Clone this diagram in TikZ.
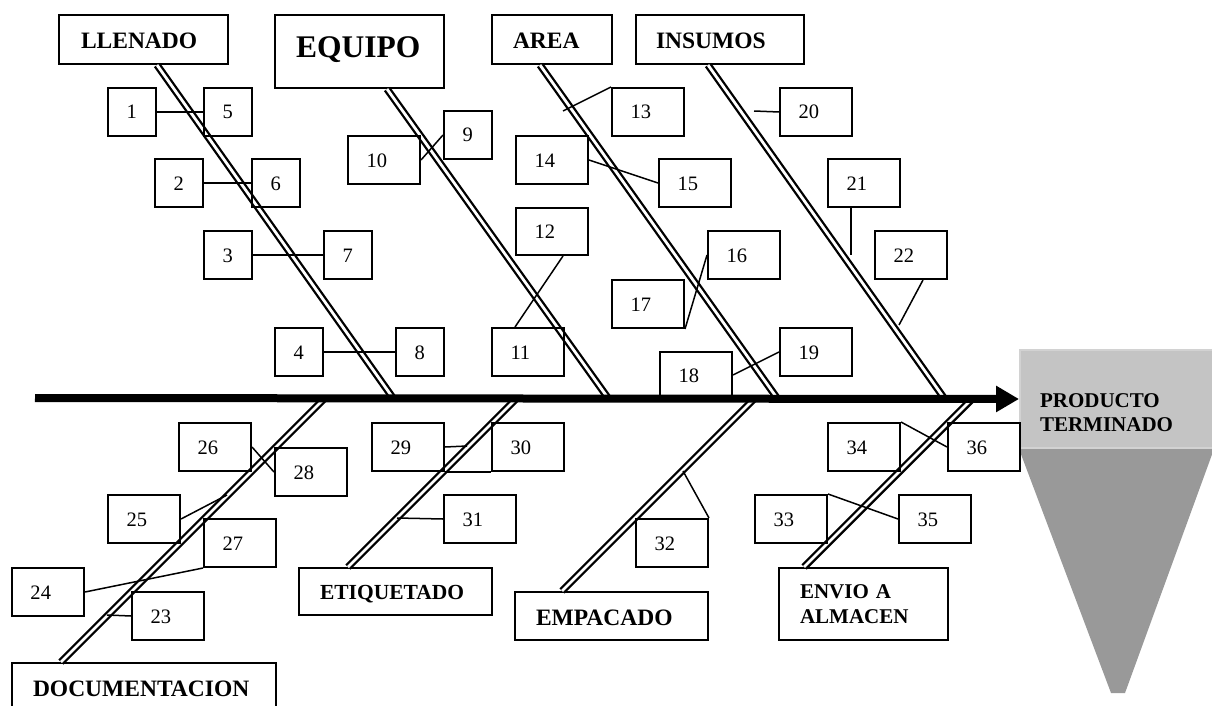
\documentclass[tikz,border=0pt]{standalone}
\usepackage{fontspec}
\setmainfont{Liberation Serif}
\usetikzlibrary{arrows.meta,calc}

\definecolor{prodfill}{RGB}{196,196,196}
\definecolor{prodedge}{RGB}{210,210,210}
\definecolor{funnel}{RGB}{153,153,153}

\newcommand\numfont{\fontsize{20.5}{24}\selectfont}
\newcommand\catfont{\fontsize{23.5}{28}\selectfont\bfseries}

\begin{document}
\begin{tikzpicture}[x=1pt,y=-1pt,
  box/.style={draw, line width=2pt, anchor=north west, inner ysep=0pt, align=left},
  nb/.style={box, minimum width=48pt, minimum height=48pt, inner xsep=18.5pt,
    text width=11pt, text height=14pt, text depth=0pt, font=\numfont},
  nw/.style={nb, minimum width=72pt, text width=35pt},
  cat/.style={box, font=\catfont, inner xsep=21pt, text depth=0pt},
  bone/.style={double, line width=2.3pt, double distance=2.8pt},
  cn/.style={line width=1.5pt},
  axisline/.style={line width=8pt, -{Triangle[length=23pt,width=25pt]}}
]
\useasboundingbox (0,0) rectangle (1212,706);
\clip (0,0) rectangle (1212,706);

% category boxes
\node[cat, minimum width=169pt, minimum height=49pt, inner xsep=22pt, text width=125pt, text height=19pt] (lle) at (58,14) {LLENADO};
\node[cat, font=\fontsize{31.5}{36}\selectfont\bfseries, minimum width=169pt, minimum height=73pt, inner xsep=21pt, text width=127pt, text height=13pt] (equ) at (274,14) {EQUIPO};
\node[cat, minimum width=120pt, minimum height=49pt, text width=78pt, text height=19pt] (are) at (491,14) {AREA};
\node[cat, minimum width=168pt, minimum height=49pt, inner xsep=20pt, text width=128pt, text height=19pt] (ins) at (635,14) {INSUMOS};
\node[cat, minimum width=264pt, minimum height=49pt, text width=222pt, text height=17pt] (doc) at (11,662) {DOCUMENTACION};
\node[cat, font=\fontsize{21.5}{26}\selectfont\bfseries, minimum width=193pt, minimum height=47pt, text width=151pt, text height=15pt] (eti) at (298,567) {ETIQUETADO};
\node[cat, minimum width=193pt, minimum height=48pt, text width=151pt, text height=18pt] (emp) at (514,591) {EMPACADO};
\node[cat, font=\fontsize{21}{25}\selectfont\bfseries, minimum width=169pt, minimum height=72pt, text width=127pt, text height=13pt, text depth=25pt] (env) at (778,567) {ENVIO A\\ALMACEN};

% finished product block
\node[cat, font=\fontsize{21}{24}\selectfont\bfseries, fill=prodfill, draw=prodedge, line width=2pt, minimum width=193pt, minimum height=98pt, inner xsep=20pt, text width=153pt, text height=20pt, text depth=4pt] (prod) at (1019,349) {PRODUCTO\\TERMINADO};
\fill[funnel] (prod.south west) -- (prod.south east) -- ++(-89,244) -- ++(-14,0) -- cycle;

% points where the bones meet the axis
\coordinate (a1) at (393,398);
\coordinate (a2) at (608,398);
\coordinate (a3) at (777,398);
\coordinate (a4) at (944,398);
\coordinate (b1) at (325,398);
\coordinate (b2) at (517,398);
\coordinate (b3) at (755,398);
\coordinate (b4) at (973,398);
\coordinate (tail) at (35,398);

% bones
\draw[bone] ($(lle.south west)+(99,0)$) -- (a1);
\draw[bone] ($(equ.south west)+(113,0)$) -- (a2);
\draw[bone] ($(are.south west)+(49,0)$) -- (a3);
\draw[bone] ($(ins.south west)+(73,0)$) -- (a4);
\draw[bone] ($(doc.north west)+(50,0)$) -- (b1);
\draw[bone] ($(eti.north west)+(50,0)$) -- (b2);
\draw[bone] ($(emp.north west)+(48,0)$) -- (b3);
\draw[bone] ($(env.north west)+(26,0)$) -- (b4);

% cause boxes
\node[nb] (n1) at (107,87) {1};
\node[nb] (n5) at (203,87) {5};
\node[nb] (n2) at (154,158) {2};
\node[nb] (n6) at (251,158) {6};
\node[nb] (n3) at (203,230) {3};
\node[nb] (n7) at (323,230) {7};
\node[nb] (n4) at (274,327) {4};
\node[nb] (n8) at (395,327) {8};
\node[nw] (n10) at (347,135) {10};
\node[nb] (n9) at (443,110) {9};
\node[nw, minimum height=47pt] (n12) at (515,207) {12};
\node[nw] (n11) at (491,327) {11};
\node[nw] (n13) at (611,87) {13};
\node[nw] (n14) at (515,135) {14};
\node[nw] (n15) at (658,158) {15};
\node[nw] (n16) at (707,230) {16};
\node[nw] (n17) at (611,279) {17};
\node[nw, minimum height=46pt] (n18) at (659,351) {18};
\node[nw] (n19) at (779,327) {19};
\node[nw] (n20) at (779,87) {20};
\node[nw] (n21) at (827,158) {21};
\node[nw] (n22) at (874,230) {22};
\node[nw] (n26) at (178,422) {26};
\node[nw] (n28) at (274,447) {28};
\node[nw] (n25) at (107,494) {25};
\node[nw] (n27) at (203,518) {27};
\node[nw] (n24) at (11,567) {24};
\node[nw] (n23) at (131,591) {23};
\node[nw] (n29) at (371,422) {29};
\node[nw] (n30) at (491,422) {30};
\node[nw] (n31) at (443,494) {31};
\node[nw] (n32) at (635,518) {32};
\node[nw] (n34) at (827,422) {34};
\node[nw] (n36) at (947,422) {36};
\node[nw] (n33) at (754,494) {33};
\node[nw] (n35) at (898,494) {35};

% free ends of single connectors
\coordinate (c13) at (563,111);
\coordinate (c20) at (754,111);
\coordinate (c21) at (851,255);
\coordinate (c22) at (899,325);
\coordinate (c25) at (227,495);
\coordinate (c23) at (107,615);
\coordinate (c29) at (467,446);
\coordinate (c31) at (397,518);
\coordinate (c32) at (683,471);

% connectors
\draw[cn] (n1.east) -- (n5.west);
\draw[cn] (n2.east) -- (n6.west);
\draw[cn] (n3.east) -- (n7.west);
\draw[cn] (n4.east) -- (n8.west);
\draw[cn] (n10.east) -- (n9.west);
\draw[cn] ($(n11.north west)+(24,0)$) -- ($(n12.south west)+(48,0)$);
\draw[cn] (n13.north west) -- (c13);
\draw[cn] (n14.east) -- (n15.west);
\draw[cn] (n17.south east) -- (n16.west);
\draw[cn] (n18.east) -- (n19.west);
\draw[cn] (n20.west) -- (c20);
\draw[cn] ($(n21.south west)+(24,0)$) -- (c21);
\draw[cn] ($(n22.south west)+(49,0)$) -- (c22);
\draw[cn] (n26.east) -- (n28.west);
\draw[cn] (n25.east) -- (c25);
\draw[cn] (n24.east) -- (n27.south west);
\draw[cn] (n23.west) -- (c23);
\draw[cn] (n29.east) -- (c29);
\draw[cn] (n29.south east) -- (n30.south west);
\draw[cn] (n31.west) -- (c31);
\draw[cn] (n32.north east) -- (c32);
\draw[cn] (n34.north east) -- (n36.west);
\draw[cn] (n33.north east) -- (n35.west);

% main axis
\draw[axisline] (tail) -- (prod.west);
\end{tikzpicture}
\end{document}
